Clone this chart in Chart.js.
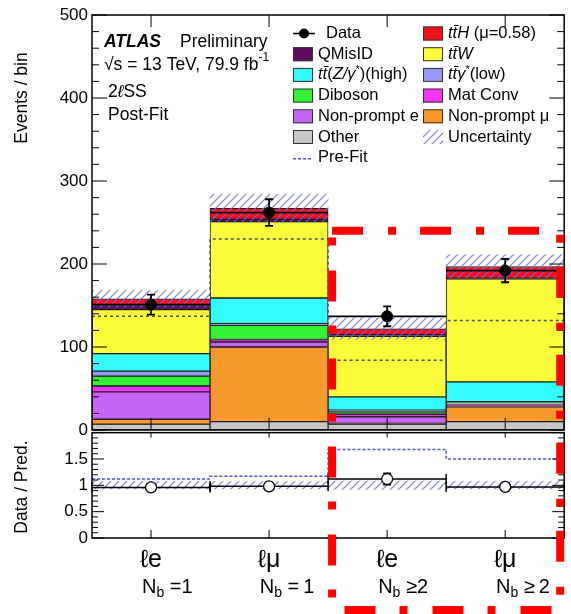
<!DOCTYPE html>
<html>
<head>
<meta charset="utf-8">
<script src="https://cdn.jsdelivr.net/npm/chart.js@4.4.0/dist/chart.umd.min.js"></script>
<style>
  html, body { margin: 0; padding: 0; background: #fff; }
  #wrap { width: 571px; height: 614px; }
</style>
</head>
<body>
<div id="wrap"><canvas id="chart" width="571" height="614"></canvas></div>
<script>
// --- bins ---
const flavours = ['ℓe', 'ℓμ', 'ℓe', 'ℓμ'];
const nbText = [' =1', ' =\u20091', ' ≥2', ' ≥\u20092'];
const binCentres = [0.5, 1.5, 2.5, 3.5];
const binEdges = [0, 1, 2, 3, 4];

// --- post-fit stack, bottom first ---
const other = [7, 10, 7, 10];
const nonPromptMu = [6, 90, 1, 18];
const nonPromptE = [33, 6, 8, 2];
const matConv = [7, 3, 3, 1];
const diboson = [12, 17, 3, 2];
const ttGammaLow = [6, 2, 2, 1];
const ttZHigh = [21, 31, 16, 24];
const ttW = [53, 92, 73, 124];
const qMisID = [5, 3, 2, 1];
const ttH = [8, 13, 7, 14];

const totalUnc = [10, 17, 13, 14];
const preFit = [137, 230, 84, 132];
const dataVals = [151, 262, 137, 192];
const dataErr = [12, 16, 12, 14];

// --- ratio panel ---
const ratioData = [0.96, 0.98, 1.12, 0.97];
const ratioErr = [0.08, 0.07, 0.11, 0.07];
const ratioPreFit = [1.12, 1.17, 1.68, 1.50];
const ratioUnc = [0.07, 0.07, 0.08, 0.07];

const mainTicks = [0, 100, 200, 300, 400, 500];
const ratioTicks = [0, 0.5, 1, 1.5];

const colours = {
    other: '#c6c6c6', npMu: '#f8992e', npE: '#c466f8', matConv: '#f733f5',
    diboson: '#33f233', ttGamma: '#9898fa', ttZ: '#33fcfc', ttW: '#fcfc3a',
    qMisID: '#5e0a5e', ttH: '#f3121c'
};

const FONT = '"Liberation Sans", Arial, sans-serif';
const font = (style, size) => `${style} ${size}px ${FONT}`;

function hatchPattern() {
    const c = document.createElement('canvas');
    c.width = 8; c.height = 8;
    const g = c.getContext('2d');
    g.strokeStyle = 'rgba(105,105,225,0.9)';
    g.lineWidth = 1.2;
    g.beginPath();
    g.moveTo(0, 8); g.lineTo(8, 0);
    g.moveTo(-2, 2); g.lineTo(2, -2);
    g.moveTo(6, 10); g.lineTo(10, 6);
    g.stroke();
    return g.createPattern(c, 'repeat');
}
const hatch = hatchPattern();

const components = [
    { label: 'Other', values: other, colour: colours.other },
    { label: 'Non-prompt μ', values: nonPromptMu, colour: colours.npMu },
    { label: 'Non-prompt e', values: nonPromptE, colour: colours.npE },
    { label: 'Mat Conv', values: matConv, colour: colours.matConv },
    { label: 'Diboson', values: diboson, colour: colours.diboson },
    { label: 'ttγ*(low)', values: ttGammaLow, colour: colours.ttGamma },
    { label: 'ttZ(high)', values: ttZHigh, colour: colours.ttZ },
    { label: 'ttW', values: ttW, colour: colours.ttW },
    { label: 'QMisID', values: qMisID, colour: colours.qMisID },
    { label: 'ttH', values: ttH, colour: colours.ttH }
];

const barCommon = { type: 'bar', grouped: false, categoryPercentage: 1, barPercentage: 1 };

let running = [0, 0, 0, 0];
const stackSets = components.map((c, k) => {
    const lo = running.slice();
    running = running.map((b, i) => b + c.values[i]);
    const hi = running.slice();
    return Object.assign({}, barCommon, {
        label: c.label,
        data: binCentres.map((x, i) => ({ x: x, y: [lo[i], hi[i]] })),
        backgroundColor: c.colour,
        borderColor: '#1e1e1e',
        borderWidth: 1,
        borderSkipped: false,
        yAxisID: 'y',
        order: 30 - k
    });
});
const total = running;

const datasets = stackSets.concat([
    Object.assign({}, barCommon, {
        label: 'Uncertainty',
        data: binCentres.map((x, i) => ({ x: x, y: [total[i] - totalUnc[i], total[i] + totalUnc[i]] })),
        backgroundColor: hatch, borderWidth: 0, yAxisID: 'y', order: 5
    }),
    Object.assign({}, barCommon, {
        label: 'ratio unc',
        data: binCentres.map((x, i) => ({ x: x, y: [1 - ratioUnc[i], 1 + ratioUnc[i]] })),
        backgroundColor: hatch, borderWidth: 0, yAxisID: 'yr', order: 5
    }),
    {
        type: 'line', label: 'Pre-Fit',
        data: binEdges.map((x, i) => ({ x: x, y: preFit[Math.min(i, 3)] })),
        stepped: 'before', borderColor: '#4c4c72', borderDash: [3, 3], borderWidth: 1.5,
        pointRadius: 0, fill: false, yAxisID: 'y', order: 3
    },
    {
        type: 'line', label: 'Pre-Fit ratio',
        data: binEdges.map((x, i) => ({ x: x, y: ratioPreFit[Math.min(i, 3)] })),
        stepped: 'before', borderColor: '#5050e0', borderDash: [3, 2], borderWidth: 1.5,
        pointRadius: 0, fill: false, yAxisID: 'yr', order: 3
    },
    {
        type: 'line', label: 'Data',
        data: binCentres.map((x, i) => ({ x: x, y: dataVals[i] })),
        showLine: false, pointRadius: 5.5, pointBackgroundColor: '#000', pointBorderColor: '#000',
        yAxisID: 'y', order: 0
    },
    {
        type: 'line', label: 'Data ratio',
        data: binCentres.map((x, i) => ({ x: x, y: ratioData[i] })),
        showLine: false, pointRadius: 5.5, pointBackgroundColor: '#fff', pointBorderColor: '#000',
        pointBorderWidth: 1.3, yAxisID: 'yr', order: -1
    }
]);
const mainPointsIndex = datasets.findIndex(d => d.label === 'Data');

// error bars + horizontal bin-width bars, drawn just before the markers
const errorBars = {
    id: 'errorBars',
    beforeDatasetDraw(chart, args) {
        if (args.index !== mainPointsIndex) return;
        const { ctx } = chart;
        const xs = chart.scales.x;
        const draw = (scale, vals, errs, radius, edgeCaps) => {
            vals.forEach((v, i) => {
                const x0 = xs.getPixelForValue(binEdges[i]);
                const x1 = xs.getPixelForValue(binEdges[i + 1]);
                const xc = xs.getPixelForValue(binCentres[i]);
                const py = scale.getPixelForValue(v);
                const hi = scale.getPixelForValue(v + errs[i]);
                const lo = scale.getPixelForValue(v - errs[i]);
                ctx.beginPath();
                ctx.moveTo(x0, py); ctx.lineTo(x1, py);
                ctx.moveTo(xc, hi); ctx.lineTo(xc, lo);
                if (py - hi > radius) {
                    ctx.moveTo(xc - 4, hi); ctx.lineTo(xc + 4, hi);
                    ctx.moveTo(xc - 4, lo); ctx.lineTo(xc + 4, lo);
                }
                if (edgeCaps) {
                    ctx.moveTo(x0, py - 5); ctx.lineTo(x0, py + 5);
                    ctx.moveTo(x1, py - 5); ctx.lineTo(x1, py + 5);
                }
                ctx.stroke();
            });
        };
        ctx.save();
        ctx.strokeStyle = '#000';
        ctx.lineWidth = 1.8;
        draw(chart.scales.y, dataVals, dataErr, 5, false);
        ctx.lineWidth = 1.5;
        draw(chart.scales.yr, ratioData, ratioErr, 5, true);
        ctx.restore();
    }
};

// ROOT-like frames with inward ticks
const frame = {
    id: 'frame',
    afterDatasetsDraw(chart) {
        const { ctx } = chart;
        const xs = chart.scales.x, y = chart.scales.y, yr = chart.scales.yr;
        const rTop = yr.getPixelForValue(2);
        ctx.save();
        ctx.strokeStyle = '#000';
        ctx.lineWidth = 1.5;
        ctx.strokeRect(xs.left, y.top, xs.right - xs.left, y.bottom - y.top);
        ctx.strokeRect(xs.left, rTop, xs.right - xs.left, yr.bottom - rTop);
        ctx.lineWidth = 1;
        ctx.beginPath();
        for (let v = 0; v <= 500; v += 20) {
            const len = v % 100 === 0 ? 15 : 7;
            const py = y.getPixelForValue(v);
            ctx.moveTo(xs.left, py); ctx.lineTo(xs.left + len, py);
            ctx.moveTo(xs.right, py); ctx.lineTo(xs.right - len, py);
        }
        for (let k = 0; k <= 20; k++) {
            const len = k % 5 === 0 ? 12 : 6;
            const py = yr.getPixelForValue(k / 10);
            ctx.moveTo(xs.left, py); ctx.lineTo(xs.left + len, py);
            ctx.moveTo(xs.right, py); ctx.lineTo(xs.right - len, py);
        }
        binCentres.forEach(c => {
            const px = xs.getPixelForValue(c);
            ctx.moveTo(px, y.top); ctx.lineTo(px, y.top + 12);
            ctx.moveTo(px, y.bottom); ctx.lineTo(px, y.bottom - 12);
            ctx.moveTo(px, rTop); ctx.lineTo(px, rTop + 5);
            ctx.moveTo(px, yr.bottom); ctx.lineTo(px, yr.bottom - 8);
        });
        ctx.stroke();
        ctx.restore();
    }
};

function drawParts(ctx, x, y, parts) {
    let cx = x;
    parts.forEach(p => {
        const [text, style = '', size = 16.5, dy = 0] = p;
        ctx.font = font(style, size);
        ctx.fillText(text, cx, y + dy);
        cx += ctx.measureText(text).width;
    });
    return cx - x;
}

const legendLeft = [
    { sym: 'data', parts: [['Data']], tx: 326 },
    { sym: 'box', colour: colours.qMisID, parts: [['QMisID']] },
    { sym: 'box', colour: colours.ttZ, parts: [['tt\u0304', 'italic'], ['('], ['Z/γ', 'italic'], ['*', '', 11, -5], [')(high)']] },
    { sym: 'box', colour: colours.diboson, parts: [['Diboson']] },
    { sym: 'box', colour: colours.npE, parts: [['Non-prompt e']] },
    { sym: 'box', colour: colours.other, parts: [['Other']] },
    { sym: 'dash', parts: [['Pre-Fit']] }
];
const legendRight = [
    { sym: 'box', colour: colours.ttH, parts: [['tt\u0304H', 'italic'], [' (μ=0.58)']] },
    { sym: 'box', colour: colours.ttW, parts: [['tt\u0304W', 'italic']] },
    { sym: 'box', colour: colours.ttGamma, parts: [['tt\u0304γ', 'italic'], ['*', '', 11, -5], ['(low)']] },
    { sym: 'box', colour: colours.matConv, parts: [['Mat Conv']] },
    { sym: 'box', colour: colours.npMu, parts: [['Non-prompt μ']] },
    { sym: 'hatch', parts: [['Uncertainty']] }
];

const texts = {
    id: 'texts',
    afterDraw(chart) {
        const { ctx } = chart;
        const xs = chart.scales.x;
        ctx.save();
        ctx.fillStyle = '#000';
        ctx.textBaseline = 'middle';

        // legend
        const drawColumn = (items, bx, tx) => {
            items.forEach((it, r) => {
                const cy = 33.5 + r * 20.7;
                if (it.sym === 'box') {
                    ctx.fillStyle = it.colour;
                    ctx.fillRect(bx, cy - 7, 20, 14);
                    ctx.strokeStyle = '#333'; ctx.lineWidth = 1;
                    ctx.strokeRect(bx + 0.5, cy - 6.5, 19, 13);
                } else if (it.sym === 'hatch') {
                    ctx.fillStyle = hatch;
                    ctx.fillRect(bx, cy - 7, 20, 14);
                } else if (it.sym === 'data') {
                    ctx.strokeStyle = '#000'; ctx.lineWidth = 1.5;
                    ctx.beginPath(); ctx.moveTo(bx, cy); ctx.lineTo(bx + 22, cy); ctx.stroke();
                    ctx.fillStyle = '#000';
                    ctx.beginPath(); ctx.arc(bx + 11, cy, 5, 0, Math.PI * 2); ctx.fill();
                } else if (it.sym === 'dash') {
                    ctx.strokeStyle = '#5050e0'; ctx.lineWidth = 1.5; ctx.setLineDash([3, 2]);
                    ctx.beginPath(); ctx.moveTo(bx, cy + 1); ctx.lineTo(bx + 20, cy + 1); ctx.stroke();
                    ctx.setLineDash([]);
                }
                ctx.fillStyle = '#000';
                drawParts(ctx, it.tx || tx, cy, it.parts);
            });
        };
        drawColumn(legendLeft, 293, 318);
        drawColumn(legendRight, 423, 448);

        // ATLAS label block
        ctx.font = font('italic bold', 17.5);
        ctx.fillText('ATLAS', 104, 42);
        ctx.font = font('', 17.5);
        ctx.fillText('Preliminary', 180, 42);
        drawParts(ctx, 104, 65, [['√s = 13 TeV, 79.9 fb', '', 17.5], ['-1', '', 12, -7]]);
        drawParts(ctx, 108, 92.5, [['2', '', 17.5], ['ℓ', 'italic', 17.5], ['SS', '', 17.5]]);
        ctx.font = font('', 17.5);
        ctx.fillText('Post-Fit', 108, 115);

        // axis titles
        ctx.textAlign = 'center';
        ctx.font = font('', 17.5);
        ctx.save(); ctx.translate(22, 98); ctx.rotate(-Math.PI / 2); ctx.fillText('Events / bin', 0, 0); ctx.restore();
        ctx.save(); ctx.translate(22, 487); ctx.rotate(-Math.PI / 2); ctx.fillText('Data / Pred.', 0, 0); ctx.restore();

        // bin labels
        ctx.textAlign = 'left';
        ctx.textBaseline = 'alphabetic';
        flavours.forEach((f, i) => {
            const xc = xs.getPixelForValue(binCentres[i]);
            ctx.font = font('', 25);
            const w = ctx.measureText(f).width;
            const x0 = xc - w / 2;
            ctx.fillText(f, x0, 567);
            drawParts(ctx, x0 + 2, 593, [['N', '', 20], ['b', '', 14, 4], [nbText[i], '', 20]]);
        });
        ctx.restore();
    }
};

// red dash-dot box drawn over the N_b >= 2 bins
const redBox = {
    id: 'redBox',
    afterDraw(chart) {
        const { ctx } = chart;
        const xs = chart.scales.x, y = chart.scales.y;
        const left = xs.getPixelForValue(2) + 4;
        const right = xs.right - 4;
        const top = y.getPixelForValue(240);
        const bottom = chart.height - 4;
        ctx.save();
        ctx.strokeStyle = '#ff0000';
        ctx.lineWidth = 8;
        ctx.setLineDash([31, 25, 8, 24]);
        ctx.beginPath();
        ctx.moveTo(left, top);
        ctx.lineTo(right, top);
        ctx.lineTo(right, bottom);
        ctx.lineTo(left, bottom);
        ctx.closePath();
        ctx.stroke();
        ctx.restore();
    }
};

new Chart(document.getElementById('chart'), {
    type: 'bar',
    data: { datasets: datasets },
    options: {
        responsive: false,
        animation: false,
        devicePixelRatio: 1,
        layout: { padding: { top: 15, right: 1, left: 0, bottom: 0 } },
        plugins: { legend: { display: false }, tooltip: { enabled: false } },
        scales: {
            x: {
                type: 'linear', min: 0, max: 4, offset: false,
                grid: { display: false, drawTicks: false, offset: false },
                border: { display: false },
                ticks: { display: false },
                afterBuildTicks: s => { s.ticks = binEdges.map(v => ({ value: v })); },
                afterFit: s => { s.height = 76; }
            },
            // listed first so that the ratio panel ends up at the bottom of the stack
            yr: {
                type: 'linear', position: 'left', stack: 'panels', stackWeight: 108,
                min: 0, max: 2.05,
                grid: { display: false, drawTicks: false },
                border: { display: false },
                afterBuildTicks: s => { s.ticks = ratioTicks.map(v => ({ value: v })); },
                ticks: {
                    padding: 4, color: '#000', autoSkip: false, font: { family: FONT, size: 17 },
                    callback: v => String(v)
                },
                afterFit: s => { s.width = 92; }
            },
            y: {
                type: 'linear', position: 'left', stack: 'panels', stackWeight: 415,
                min: 0, max: 500, stacked: false,
                grid: { display: false, drawTicks: false },
                border: { display: false },
                afterBuildTicks: s => { s.ticks = mainTicks.map(v => ({ value: v })); },
                ticks: {
                    padding: 4, color: '#000', autoSkip: false, font: { family: FONT, size: 17 },
                    callback: v => String(v)
                },
                afterFit: s => { s.width = 92; }
            }
        }
    },
    plugins: [errorBars, frame, texts, redBox]
});
</script>
</body>
</html>
